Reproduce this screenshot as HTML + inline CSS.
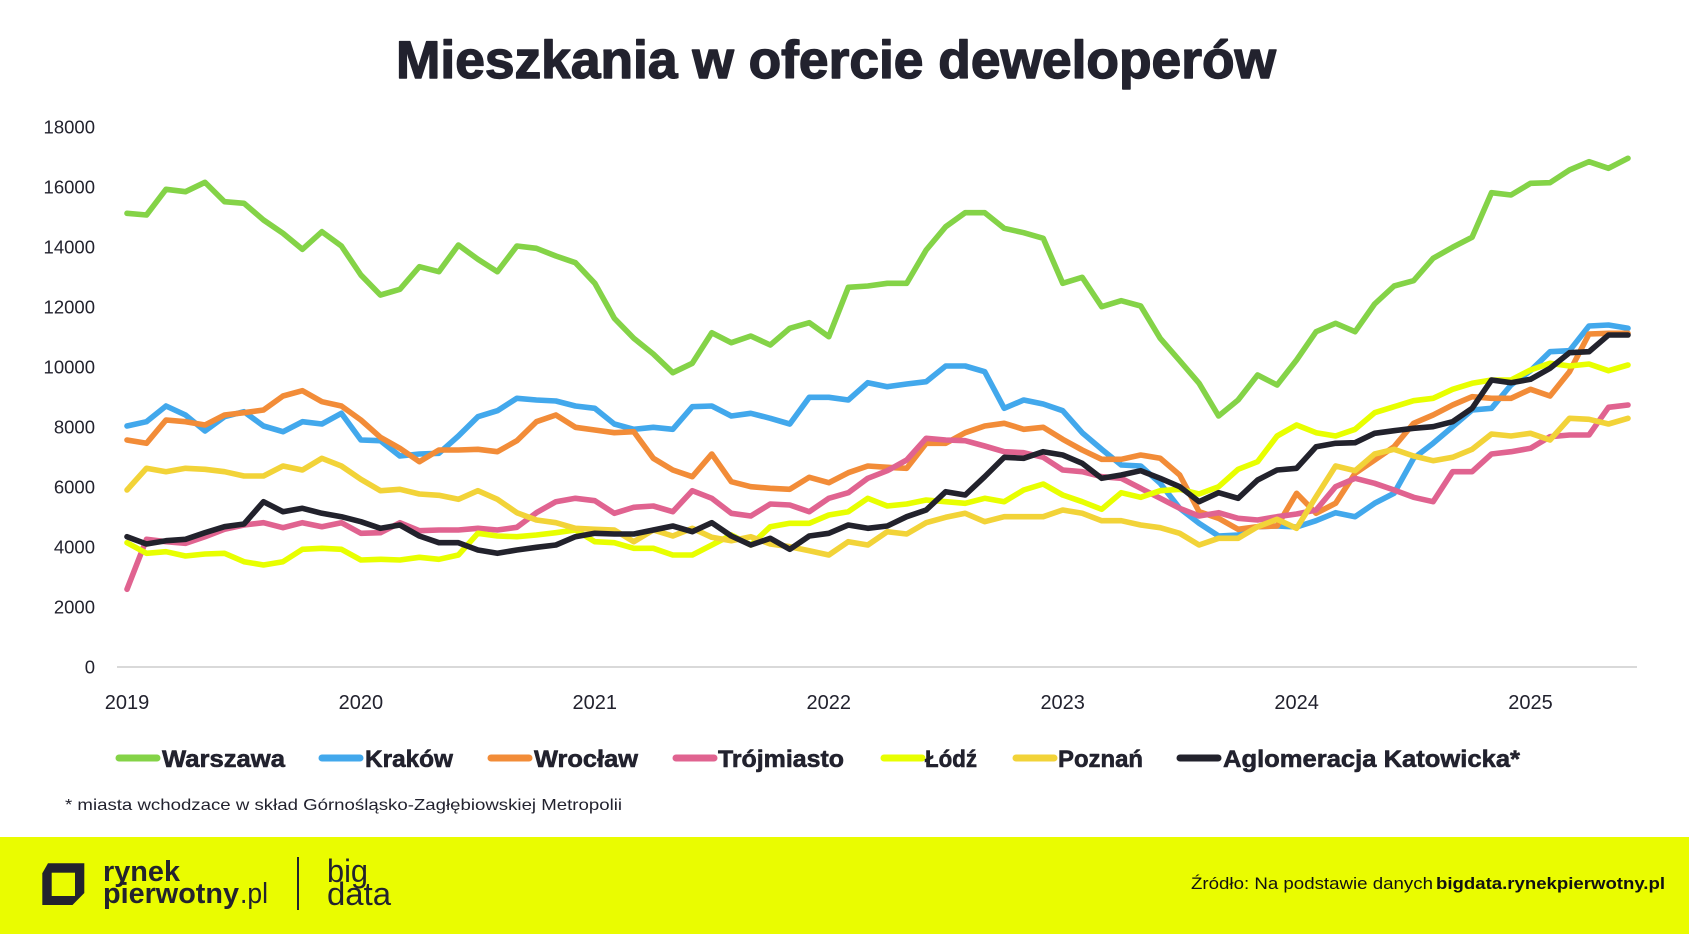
<!DOCTYPE html>
<html>
<head>
<meta charset="utf-8">
<style>
  html, body { margin: 0; padding: 0; background: #ffffff; }
  svg { display: block; font-family: "Liberation Sans", "DejaVu Sans", sans-serif; }
</style>
</head>
<body>
<svg width="1689" height="934" viewBox="0 0 1689 934" xmlns="http://www.w3.org/2000/svg">
  <rect x="0" y="0" width="1689" height="934" fill="#ffffff"/>

  <!-- Title -->
  <text x="836" y="78" text-anchor="middle" font-size="53" font-weight="bold" fill="#22222e" stroke="#22222e" stroke-width="1.4" stroke-linejoin="round" textLength="880" lengthAdjust="spacingAndGlyphs">Mieszkania w ofercie deweloperów</text>

  <!-- Y axis labels -->
  <g font-size="18.5" fill="#22222e" text-anchor="end">
    <text x="95" y="133.5">18000</text>
    <text x="95" y="193.5">16000</text>
    <text x="95" y="253.5">14000</text>
    <text x="95" y="313.5">12000</text>
    <text x="95" y="373.5">10000</text>
    <text x="95" y="433.5">8000</text>
    <text x="95" y="493.5">6000</text>
    <text x="95" y="553.5">4000</text>
    <text x="95" y="613.5">2000</text>
    <text x="95" y="673.5">0</text>
  </g>

  <!-- Baseline -->
  <line x1="117" y1="667" x2="1637" y2="667" stroke="#d9d9d9" stroke-width="2"/>

  <!-- X axis labels -->
  <g font-size="20" fill="#22222e" text-anchor="middle">
    <text x="127" y="709">2019</text>
    <text x="360.9" y="709">2020</text>
    <text x="594.8" y="709">2021</text>
    <text x="828.8" y="709">2022</text>
    <text x="1062.7" y="709">2023</text>
    <text x="1296.6" y="709">2024</text>
    <text x="1530.5" y="709">2025</text>
  </g>

  <!-- Series -->
  <g fill="none" stroke-width="5.6" stroke-linejoin="round" stroke-linecap="round">
    <!-- Warszawa -->
    <polyline stroke="#84d347" points="127,213.3 146.5,215 166,189.3 185.5,191.7 205,182.3 224.5,201.7 244,203.3 263.5,220 283,233.3 302.4,249.3 321.9,231.7 341.4,246 360.9,275 380.4,295 399.9,289.3 419.4,266.7 438.9,271.7 458.4,245 477.9,259.3 497.4,271.7 516.9,246 536.4,248.3 555.9,256 575.4,262.7 594.8,283.3 614.3,318.3 633.8,338.3 653.3,354 672.8,372.7 692.3,363.3 711.8,332.7 731.3,342.7 750.8,336 770.3,345 789.8,328.3 809.3,322.7 828.8,336.7 848.3,287.3 867.8,286 887.3,283.3 906.7,283.3 926.2,250 945.7,226.7 965.2,212.7 984.7,212.7 1004.2,228.3 1023.7,232.7 1043.2,238.3 1062.7,283.3 1082.2,277.3 1101.7,306.7 1121.2,300.7 1140.7,306 1160.2,338.3 1179.7,360.7 1199.1,383.3 1218.6,416 1238.1,400 1257.6,375 1277.1,385 1296.6,360 1316.1,331.7 1335.6,323.3 1355.1,331.7 1374.6,304 1394.1,286 1413.6,280.7 1433.1,258.3 1452.6,247.3 1472.1,237.3 1491.5,192.7 1511,195 1530.5,183.3 1550,182.7 1569.5,170 1589,161.7 1608.5,168.3 1628,158.3"/>
    <!-- Kraków -->
    <polyline stroke="#42a8ec" points="127,426 146.5,421.7 166,406 185.5,415 205,431 224.5,416.7 244,411.7 263.5,426 283,431.7 302.4,421.7 321.9,424 341.4,413.3 360.9,440 380.4,440.7 399.9,456 419.4,454 438.9,453.3 458.4,436 477.9,416.7 497.4,410.7 516.9,398.3 536.4,400 555.9,401 575.4,406 594.8,408.3 614.3,424 633.8,429.3 653.3,427.3 672.8,429.3 692.3,406.7 711.8,406 731.3,416 750.8,413.3 770.3,418.3 789.8,424 809.3,397.3 828.8,397.3 848.3,400 867.8,382.7 887.3,386.7 906.7,384 926.2,381.7 945.7,366 965.2,366 984.7,371.7 1004.2,408.3 1023.7,400 1043.2,404 1062.7,410.7 1082.2,432.7 1101.7,449.3 1121.2,465 1140.7,466 1160.2,483.3 1179.7,508.3 1199.1,523.3 1218.6,536 1238.1,535 1257.6,526.7 1277.1,526 1296.6,527 1316.1,520.7 1335.6,512.7 1355.1,516.7 1374.6,503.3 1394.1,493.3 1413.6,458.3 1433.1,443.3 1452.6,426.7 1472.1,410 1491.5,408.3 1511,385 1530.5,370.7 1550,351.7 1569.5,350.7 1589,326 1608.5,325 1628,328.3"/>
    <!-- Wrocław -->
    <polyline stroke="#f28c38" points="127,440 146.5,443.3 166,420 185.5,421.7 205,425 224.5,415 244,412.7 263.5,410 283,396 302.4,390.7 321.9,401.7 341.4,406 360.9,420 380.4,437.3 399.9,448.3 419.4,461.7 438.9,450 458.4,450 477.9,449.3 497.4,451.7 516.9,440.7 536.4,421.7 555.9,415 575.4,427.3 594.8,430 614.3,432.7 633.8,431.7 653.3,458.3 672.8,470 692.3,476.7 711.8,454 731.3,481.7 750.8,486.7 770.3,488.3 789.8,489.3 809.3,477.3 828.8,482.7 848.3,472.7 867.8,466 887.3,467.3 906.7,468.3 926.2,443.3 945.7,443.3 965.2,432.7 984.7,426 1004.2,423.3 1023.7,429.3 1043.2,427.3 1062.7,439.3 1082.2,450 1101.7,459.3 1121.2,459.3 1140.7,455 1160.2,458.3 1179.7,475 1199.1,511.7 1218.6,518.3 1238.1,529.3 1257.6,526.7 1277.1,526 1296.6,493.3 1316.1,513.3 1335.6,503.3 1355.1,473.3 1374.6,460 1394.1,446.7 1413.6,423.3 1433.1,415 1452.6,405 1472.1,396.7 1491.5,398.3 1511,398.3 1530.5,389.3 1550,396 1569.5,371.7 1589,334 1608.5,333.3 1628,333.3"/>
    <!-- Trójmiasto -->
    <polyline stroke="#e06390" points="127,589.3 146.5,539.3 166,541.7 185.5,543.3 205,536.7 224.5,529.3 244,525 263.5,522.7 283,527.7 302.4,522.7 321.9,526.7 341.4,522.7 360.9,533.3 380.4,532.7 399.9,522.7 419.4,530.7 438.9,530 458.4,530 477.9,528.3 497.4,530 516.9,527.3 536.4,512.7 555.9,501.7 575.4,498.3 594.8,500.7 614.3,513.3 633.8,507.3 653.3,506 672.8,511.7 692.3,490.7 711.8,498.3 731.3,513.3 750.8,516 770.3,504 789.8,505 809.3,511.7 828.8,498.3 848.3,492.7 867.8,478.3 887.3,470.7 906.7,460 926.2,438.3 945.7,440 965.2,440.7 984.7,446 1004.2,451.7 1023.7,452.7 1043.2,457.3 1062.7,470 1082.2,471.7 1101.7,476.7 1121.2,478.3 1140.7,488.3 1160.2,498.3 1179.7,508.3 1199.1,516 1218.6,512.7 1238.1,518.3 1257.6,520 1277.1,516.7 1296.6,514 1316.1,510 1335.6,486.7 1355.1,478.3 1374.6,483.3 1394.1,490 1413.6,497.3 1433.1,501.7 1452.6,471.7 1472.1,471.7 1491.5,454 1511,451.7 1530.5,448.3 1550,436.7 1569.5,435 1589,435 1608.5,407.3 1628,405"/>
    <!-- Łódź -->
    <polyline stroke="#e8ff00" points="127,542.7 146.5,553.3 166,551.7 185.5,556 205,554 224.5,553.3 244,561.7 263.5,565 283,561.7 302.4,549.3 321.9,548.3 341.4,549.3 360.9,560 380.4,559.3 399.9,560 419.4,557.3 438.9,559.3 458.4,555 477.9,533.3 497.4,536 516.9,536.7 536.4,535 555.9,532.7 575.4,530 594.8,541.7 614.3,542.7 633.8,548.3 653.3,548.3 672.8,555 692.3,555 711.8,545 731.3,535 750.8,545 770.3,526.7 789.8,523.3 809.3,523.3 828.8,515 848.3,511.7 867.8,498.3 887.3,506 906.7,504 926.2,500 945.7,501.7 965.2,503.3 984.7,498.3 1004.2,501.7 1023.7,490 1043.2,484 1062.7,495 1082.2,501.7 1101.7,509.3 1121.2,492.7 1140.7,497.3 1160.2,490.7 1179.7,489.3 1199.1,494 1218.6,486.7 1238.1,469.3 1257.6,461.7 1277.1,436 1296.6,425 1316.1,432.7 1335.6,436 1355.1,429.3 1374.6,412.7 1394.1,406.7 1413.6,400.7 1433.1,398.3 1452.6,389.3 1472.1,383.3 1491.5,380 1511,380 1530.5,370 1550,363.3 1569.5,366 1589,364 1608.5,370.7 1628,365"/>
    <!-- Poznań -->
    <polyline stroke="#f2d338" points="127,490 146.5,468.3 166,471.7 185.5,468.3 205,469.3 224.5,471.7 244,476 263.5,476 283,466 302.4,470 321.9,458.3 341.4,466 360.9,479.3 380.4,490.7 399.9,489.3 419.4,494 438.9,495.3 458.4,499.3 477.9,490.7 497.4,499.3 516.9,512.7 536.4,520 555.9,522.7 575.4,528.3 594.8,529.3 614.3,530 633.8,541.7 653.3,530 672.8,536 692.3,528.3 711.8,537.3 731.3,540.7 750.8,536.7 770.3,544 789.8,546.7 809.3,550.7 828.8,555 848.3,541.7 867.8,545 887.3,531.7 906.7,534 926.2,522.7 945.7,517.3 965.2,513.3 984.7,521.7 1004.2,516.7 1023.7,516.7 1043.2,516.7 1062.7,510 1082.2,513.3 1101.7,520.7 1121.2,520.7 1140.7,525 1160.2,527.7 1179.7,533.3 1199.1,545 1218.6,538.3 1238.1,538.3 1257.6,526.7 1277.1,519.3 1296.6,528.3 1316.1,496.7 1335.6,466 1355.1,470.7 1374.6,454 1394.1,449.3 1413.6,456 1433.1,460.7 1452.6,457.3 1472.1,449.3 1491.5,434 1511,436 1530.5,433.3 1550,440 1569.5,418.3 1589,419.3 1608.5,424 1628,418.3"/>
    <!-- Aglomeracja Katowicka -->
    <polyline stroke="#22222c" points="127,536.7 146.5,544 166,540.7 185.5,539.3 205,532.7 224.5,526.7 244,524 263.5,501.7 283,511.7 302.4,508.3 321.9,513.3 341.4,516.7 360.9,521.7 380.4,528.3 399.9,525 419.4,536 438.9,542.7 458.4,542.7 477.9,550 497.4,553.3 516.9,550 536.4,547.3 555.9,545 575.4,536.7 594.8,533.3 614.3,534 633.8,534 653.3,530 672.8,526 692.3,531.7 711.8,522.7 731.3,536 750.8,545 770.3,538.3 789.8,549.3 809.3,536 828.8,533.3 848.3,525 867.8,528.3 887.3,526 906.7,516.7 926.2,510 945.7,491.7 965.2,495 984.7,476.7 1004.2,457.3 1023.7,458.3 1043.2,451.7 1062.7,455 1082.2,463.3 1101.7,478.3 1121.2,475 1140.7,470.7 1160.2,478.3 1179.7,486.7 1199.1,501.7 1218.6,492.7 1238.1,498.3 1257.6,480 1277.1,470 1296.6,468.3 1316.1,446.7 1335.6,443.3 1355.1,442.7 1374.6,433.3 1394.1,430.7 1413.6,428.3 1433.1,426.7 1452.6,421.7 1472.1,408.3 1491.5,380 1511,382.7 1530.5,379.3 1550,368.3 1569.5,352.7 1589,351.7 1608.5,335 1628,335"/>
  </g>

  <!-- Legend -->
  <g stroke-width="7" stroke-linecap="round">
    <line x1="119" y1="758" x2="157" y2="758" stroke="#84d347"/>
    <line x1="322" y1="758" x2="360" y2="758" stroke="#42a8ec"/>
    <line x1="491" y1="758" x2="529" y2="758" stroke="#f28c38"/>
    <line x1="676" y1="758" x2="714" y2="758" stroke="#e06390"/>
    <line x1="884" y1="758" x2="922" y2="758" stroke="#e8ff00"/>
    <line x1="1016" y1="758" x2="1054" y2="758" stroke="#f2d338"/>
    <line x1="1180" y1="758" x2="1218" y2="758" stroke="#22222c"/>
  </g>
  <g font-size="24" font-weight="bold" fill="#22222e" stroke="#22222e" stroke-width="0.6" stroke-linejoin="round">
    <text x="162" y="767" textLength="123" lengthAdjust="spacingAndGlyphs">Warszawa</text>
    <text x="365" y="767" textLength="88" lengthAdjust="spacingAndGlyphs">Kraków</text>
    <text x="534" y="767" textLength="104" lengthAdjust="spacingAndGlyphs">Wrocław</text>
    <text x="718" y="767" textLength="126" lengthAdjust="spacingAndGlyphs">Trójmiasto</text>
    <text x="925" y="767" textLength="52" lengthAdjust="spacingAndGlyphs">Łódź</text>
    <text x="1058" y="767" textLength="85" lengthAdjust="spacingAndGlyphs">Poznań</text>
    <text x="1223" y="767" textLength="297" lengthAdjust="spacingAndGlyphs">Aglomeracja Katowicka*</text>
  </g>

  <!-- Footnote -->
  <text x="65" y="810" font-size="16" fill="#22222e" textLength="557" lengthAdjust="spacingAndGlyphs">* miasta wchodzace w skład Górnośląsko-Zagłębiowskiej Metropolii</text>

  <!-- Footer -->
  <rect x="0" y="837" width="1689" height="97" fill="#eafc00"/>

  <!-- Logo icon -->
  <polygon points="48,863.3 84.3,863.3 84.3,893 72.5,905 42.3,905 42.3,873.3" fill="#23232e"/>
  <rect x="51.7" y="872.7" width="23.3" height="23.3" fill="#eafc00"/>

  <g fill="#23232e">
    <text x="103" y="881" font-size="29" font-weight="bold" textLength="77" lengthAdjust="spacingAndGlyphs">rynek</text>
    <text x="103" y="903" font-size="29" font-weight="bold" textLength="136" lengthAdjust="spacingAndGlyphs">pierwotny</text>
    <text x="240" y="903" font-size="29" textLength="28" lengthAdjust="spacingAndGlyphs">.pl</text>
  </g>
  <line x1="298" y1="857" x2="298" y2="910" stroke="#23232e" stroke-width="2"/>
  <g fill="#23232e" font-size="32" font-weight="300">
    <text x="327" y="882" textLength="41" lengthAdjust="spacingAndGlyphs">big</text>
    <text x="327" y="905" textLength="64" lengthAdjust="spacingAndGlyphs">data</text>
  </g>

  <text x="1191" y="889" font-size="17" fill="#111111" textLength="242" lengthAdjust="spacingAndGlyphs">Źródło: Na podstawie danych</text>
  <text x="1436" y="889" font-size="17" font-weight="bold" fill="#111111" textLength="229" lengthAdjust="spacingAndGlyphs">bigdata.rynekpierwotny.pl</text>
</svg>
</body>
</html>
